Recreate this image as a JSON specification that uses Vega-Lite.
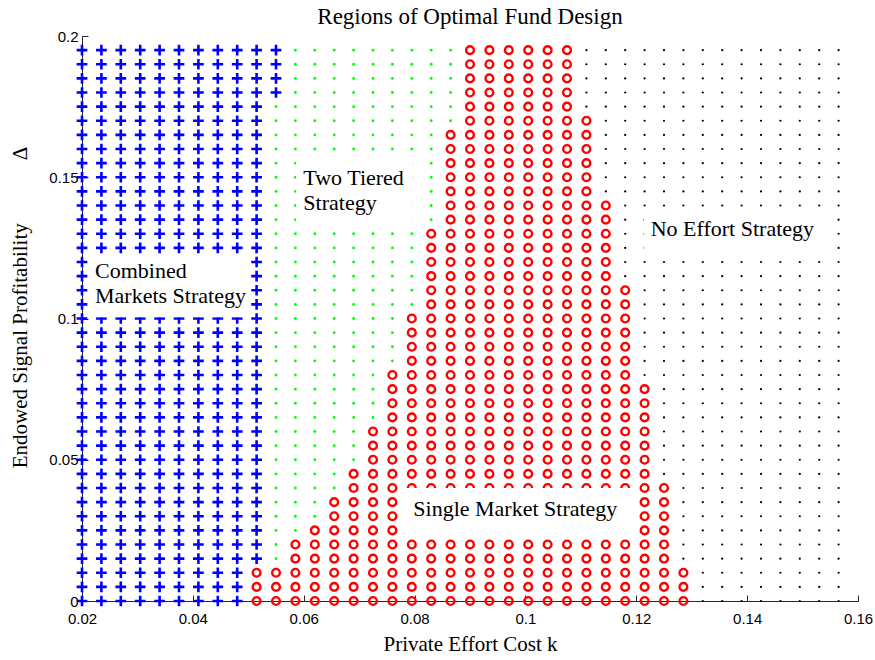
{
"$schema": "https://vega.github.io/schema/vega-lite/v6.json",
"width": 776, "height": 565,
"autosize": {"type": "none"},
"padding": {"left": 82, "top": 36, "right": 17, "bottom": 59},
"background": "white",
"title": {"text": "Regions of Optimal Fund Design", "font": "Liberation Serif", "fontSize": 23, "fontWeight": "normal", "color": "black", "offset": 0},
"config": {"view": {"stroke": null}},
"datasets": {
"grid": [
{"k":0.02,"d":0,"s":"C"},{"k":0.02,"d":0.005,"s":"C"},{"k":0.02,"d":0.01,"s":"C"},{"k":0.02,"d":0.015,"s":"C"},{"k":0.02,"d":0.02,"s":"C"},{"k":0.02,"d":0.025,"s":"C"},{"k":0.02,"d":0.03,"s":"C"},{"k":0.02,"d":0.035,"s":"C"},{"k":0.02,"d":0.04,"s":"C"},{"k":0.02,"d":0.045,"s":"C"},{"k":0.02,"d":0.05,"s":"C"},{"k":0.02,"d":0.055,"s":"C"},{"k":0.02,"d":0.06,"s":"C"},{"k":0.02,"d":0.065,"s":"C"},{"k":0.02,"d":0.07,"s":"C"},{"k":0.02,"d":0.075,"s":"C"},{"k":0.02,"d":0.08,"s":"C"},{"k":0.02,"d":0.085,"s":"C"},{"k":0.02,"d":0.09,"s":"C"},{"k":0.02,"d":0.095,"s":"C"},{"k":0.02,"d":0.1,"s":"C"},{"k":0.02,"d":0.105,"s":"C"},{"k":0.02,"d":0.11,"s":"C"},{"k":0.02,"d":0.115,"s":"C"},{"k":0.02,"d":0.12,"s":"C"},{"k":0.02,"d":0.125,"s":"C"},{"k":0.02,"d":0.13,"s":"C"},{"k":0.02,"d":0.135,"s":"C"},{"k":0.02,"d":0.14,"s":"C"},{"k":0.02,"d":0.145,"s":"C"},{"k":0.02,"d":0.15,"s":"C"},{"k":0.02,"d":0.155,"s":"C"},{"k":0.02,"d":0.16,"s":"C"},{"k":0.02,"d":0.165,"s":"C"},{"k":0.02,"d":0.17,"s":"C"},{"k":0.02,"d":0.175,"s":"C"},{"k":0.02,"d":0.18,"s":"C"},{"k":0.02,"d":0.185,"s":"C"},{"k":0.02,"d":0.19,"s":"C"},{"k":0.02,"d":0.195,"s":"C"},
{"k":0.0235,"d":0,"s":"C"},{"k":0.0235,"d":0.005,"s":"C"},{"k":0.0235,"d":0.01,"s":"C"},{"k":0.0235,"d":0.015,"s":"C"},{"k":0.0235,"d":0.02,"s":"C"},{"k":0.0235,"d":0.025,"s":"C"},{"k":0.0235,"d":0.03,"s":"C"},{"k":0.0235,"d":0.035,"s":"C"},{"k":0.0235,"d":0.04,"s":"C"},{"k":0.0235,"d":0.045,"s":"C"},{"k":0.0235,"d":0.05,"s":"C"},{"k":0.0235,"d":0.055,"s":"C"},{"k":0.0235,"d":0.06,"s":"C"},{"k":0.0235,"d":0.065,"s":"C"},{"k":0.0235,"d":0.07,"s":"C"},{"k":0.0235,"d":0.075,"s":"C"},{"k":0.0235,"d":0.08,"s":"C"},{"k":0.0235,"d":0.085,"s":"C"},{"k":0.0235,"d":0.09,"s":"C"},{"k":0.0235,"d":0.095,"s":"C"},{"k":0.0235,"d":0.1,"s":"C"},{"k":0.0235,"d":0.105,"s":"C"},{"k":0.0235,"d":0.11,"s":"C"},{"k":0.0235,"d":0.115,"s":"C"},{"k":0.0235,"d":0.12,"s":"C"},{"k":0.0235,"d":0.125,"s":"C"},{"k":0.0235,"d":0.13,"s":"C"},{"k":0.0235,"d":0.135,"s":"C"},{"k":0.0235,"d":0.14,"s":"C"},{"k":0.0235,"d":0.145,"s":"C"},{"k":0.0235,"d":0.15,"s":"C"},{"k":0.0235,"d":0.155,"s":"C"},{"k":0.0235,"d":0.16,"s":"C"},{"k":0.0235,"d":0.165,"s":"C"},{"k":0.0235,"d":0.17,"s":"C"},{"k":0.0235,"d":0.175,"s":"C"},{"k":0.0235,"d":0.18,"s":"C"},{"k":0.0235,"d":0.185,"s":"C"},{"k":0.0235,"d":0.19,"s":"C"},{"k":0.0235,"d":0.195,"s":"C"},
{"k":0.027,"d":0,"s":"C"},{"k":0.027,"d":0.005,"s":"C"},{"k":0.027,"d":0.01,"s":"C"},{"k":0.027,"d":0.015,"s":"C"},{"k":0.027,"d":0.02,"s":"C"},{"k":0.027,"d":0.025,"s":"C"},{"k":0.027,"d":0.03,"s":"C"},{"k":0.027,"d":0.035,"s":"C"},{"k":0.027,"d":0.04,"s":"C"},{"k":0.027,"d":0.045,"s":"C"},{"k":0.027,"d":0.05,"s":"C"},{"k":0.027,"d":0.055,"s":"C"},{"k":0.027,"d":0.06,"s":"C"},{"k":0.027,"d":0.065,"s":"C"},{"k":0.027,"d":0.07,"s":"C"},{"k":0.027,"d":0.075,"s":"C"},{"k":0.027,"d":0.08,"s":"C"},{"k":0.027,"d":0.085,"s":"C"},{"k":0.027,"d":0.09,"s":"C"},{"k":0.027,"d":0.095,"s":"C"},{"k":0.027,"d":0.1,"s":"C"},{"k":0.027,"d":0.105,"s":"C"},{"k":0.027,"d":0.11,"s":"C"},{"k":0.027,"d":0.115,"s":"C"},{"k":0.027,"d":0.12,"s":"C"},{"k":0.027,"d":0.125,"s":"C"},{"k":0.027,"d":0.13,"s":"C"},{"k":0.027,"d":0.135,"s":"C"},{"k":0.027,"d":0.14,"s":"C"},{"k":0.027,"d":0.145,"s":"C"},{"k":0.027,"d":0.15,"s":"C"},{"k":0.027,"d":0.155,"s":"C"},{"k":0.027,"d":0.16,"s":"C"},{"k":0.027,"d":0.165,"s":"C"},{"k":0.027,"d":0.17,"s":"C"},{"k":0.027,"d":0.175,"s":"C"},{"k":0.027,"d":0.18,"s":"C"},{"k":0.027,"d":0.185,"s":"C"},{"k":0.027,"d":0.19,"s":"C"},{"k":0.027,"d":0.195,"s":"C"},
{"k":0.0305,"d":0,"s":"C"},{"k":0.0305,"d":0.005,"s":"C"},{"k":0.0305,"d":0.01,"s":"C"},{"k":0.0305,"d":0.015,"s":"C"},{"k":0.0305,"d":0.02,"s":"C"},{"k":0.0305,"d":0.025,"s":"C"},{"k":0.0305,"d":0.03,"s":"C"},{"k":0.0305,"d":0.035,"s":"C"},{"k":0.0305,"d":0.04,"s":"C"},{"k":0.0305,"d":0.045,"s":"C"},{"k":0.0305,"d":0.05,"s":"C"},{"k":0.0305,"d":0.055,"s":"C"},{"k":0.0305,"d":0.06,"s":"C"},{"k":0.0305,"d":0.065,"s":"C"},{"k":0.0305,"d":0.07,"s":"C"},{"k":0.0305,"d":0.075,"s":"C"},{"k":0.0305,"d":0.08,"s":"C"},{"k":0.0305,"d":0.085,"s":"C"},{"k":0.0305,"d":0.09,"s":"C"},{"k":0.0305,"d":0.095,"s":"C"},{"k":0.0305,"d":0.1,"s":"C"},{"k":0.0305,"d":0.105,"s":"C"},{"k":0.0305,"d":0.11,"s":"C"},{"k":0.0305,"d":0.115,"s":"C"},{"k":0.0305,"d":0.12,"s":"C"},{"k":0.0305,"d":0.125,"s":"C"},{"k":0.0305,"d":0.13,"s":"C"},{"k":0.0305,"d":0.135,"s":"C"},{"k":0.0305,"d":0.14,"s":"C"},{"k":0.0305,"d":0.145,"s":"C"},{"k":0.0305,"d":0.15,"s":"C"},{"k":0.0305,"d":0.155,"s":"C"},{"k":0.0305,"d":0.16,"s":"C"},{"k":0.0305,"d":0.165,"s":"C"},{"k":0.0305,"d":0.17,"s":"C"},{"k":0.0305,"d":0.175,"s":"C"},{"k":0.0305,"d":0.18,"s":"C"},{"k":0.0305,"d":0.185,"s":"C"},{"k":0.0305,"d":0.19,"s":"C"},{"k":0.0305,"d":0.195,"s":"C"},
{"k":0.034,"d":0,"s":"C"},{"k":0.034,"d":0.005,"s":"C"},{"k":0.034,"d":0.01,"s":"C"},{"k":0.034,"d":0.015,"s":"C"},{"k":0.034,"d":0.02,"s":"C"},{"k":0.034,"d":0.025,"s":"C"},{"k":0.034,"d":0.03,"s":"C"},{"k":0.034,"d":0.035,"s":"C"},{"k":0.034,"d":0.04,"s":"C"},{"k":0.034,"d":0.045,"s":"C"},{"k":0.034,"d":0.05,"s":"C"},{"k":0.034,"d":0.055,"s":"C"},{"k":0.034,"d":0.06,"s":"C"},{"k":0.034,"d":0.065,"s":"C"},{"k":0.034,"d":0.07,"s":"C"},{"k":0.034,"d":0.075,"s":"C"},{"k":0.034,"d":0.08,"s":"C"},{"k":0.034,"d":0.085,"s":"C"},{"k":0.034,"d":0.09,"s":"C"},{"k":0.034,"d":0.095,"s":"C"},{"k":0.034,"d":0.1,"s":"C"},{"k":0.034,"d":0.105,"s":"C"},{"k":0.034,"d":0.11,"s":"C"},{"k":0.034,"d":0.115,"s":"C"},{"k":0.034,"d":0.12,"s":"C"},{"k":0.034,"d":0.125,"s":"C"},{"k":0.034,"d":0.13,"s":"C"},{"k":0.034,"d":0.135,"s":"C"},{"k":0.034,"d":0.14,"s":"C"},{"k":0.034,"d":0.145,"s":"C"},{"k":0.034,"d":0.15,"s":"C"},{"k":0.034,"d":0.155,"s":"C"},{"k":0.034,"d":0.16,"s":"C"},{"k":0.034,"d":0.165,"s":"C"},{"k":0.034,"d":0.17,"s":"C"},{"k":0.034,"d":0.175,"s":"C"},{"k":0.034,"d":0.18,"s":"C"},{"k":0.034,"d":0.185,"s":"C"},{"k":0.034,"d":0.19,"s":"C"},{"k":0.034,"d":0.195,"s":"C"},
{"k":0.0375,"d":0,"s":"C"},{"k":0.0375,"d":0.005,"s":"C"},{"k":0.0375,"d":0.01,"s":"C"},{"k":0.0375,"d":0.015,"s":"C"},{"k":0.0375,"d":0.02,"s":"C"},{"k":0.0375,"d":0.025,"s":"C"},{"k":0.0375,"d":0.03,"s":"C"},{"k":0.0375,"d":0.035,"s":"C"},{"k":0.0375,"d":0.04,"s":"C"},{"k":0.0375,"d":0.045,"s":"C"},{"k":0.0375,"d":0.05,"s":"C"},{"k":0.0375,"d":0.055,"s":"C"},{"k":0.0375,"d":0.06,"s":"C"},{"k":0.0375,"d":0.065,"s":"C"},{"k":0.0375,"d":0.07,"s":"C"},{"k":0.0375,"d":0.075,"s":"C"},{"k":0.0375,"d":0.08,"s":"C"},{"k":0.0375,"d":0.085,"s":"C"},{"k":0.0375,"d":0.09,"s":"C"},{"k":0.0375,"d":0.095,"s":"C"},{"k":0.0375,"d":0.1,"s":"C"},{"k":0.0375,"d":0.105,"s":"C"},{"k":0.0375,"d":0.11,"s":"C"},{"k":0.0375,"d":0.115,"s":"C"},{"k":0.0375,"d":0.12,"s":"C"},{"k":0.0375,"d":0.125,"s":"C"},{"k":0.0375,"d":0.13,"s":"C"},{"k":0.0375,"d":0.135,"s":"C"},{"k":0.0375,"d":0.14,"s":"C"},{"k":0.0375,"d":0.145,"s":"C"},{"k":0.0375,"d":0.15,"s":"C"},{"k":0.0375,"d":0.155,"s":"C"},{"k":0.0375,"d":0.16,"s":"C"},{"k":0.0375,"d":0.165,"s":"C"},{"k":0.0375,"d":0.17,"s":"C"},{"k":0.0375,"d":0.175,"s":"C"},{"k":0.0375,"d":0.18,"s":"C"},{"k":0.0375,"d":0.185,"s":"C"},{"k":0.0375,"d":0.19,"s":"C"},{"k":0.0375,"d":0.195,"s":"C"},
{"k":0.041,"d":0,"s":"C"},{"k":0.041,"d":0.005,"s":"C"},{"k":0.041,"d":0.01,"s":"C"},{"k":0.041,"d":0.015,"s":"C"},{"k":0.041,"d":0.02,"s":"C"},{"k":0.041,"d":0.025,"s":"C"},{"k":0.041,"d":0.03,"s":"C"},{"k":0.041,"d":0.035,"s":"C"},{"k":0.041,"d":0.04,"s":"C"},{"k":0.041,"d":0.045,"s":"C"},{"k":0.041,"d":0.05,"s":"C"},{"k":0.041,"d":0.055,"s":"C"},{"k":0.041,"d":0.06,"s":"C"},{"k":0.041,"d":0.065,"s":"C"},{"k":0.041,"d":0.07,"s":"C"},{"k":0.041,"d":0.075,"s":"C"},{"k":0.041,"d":0.08,"s":"C"},{"k":0.041,"d":0.085,"s":"C"},{"k":0.041,"d":0.09,"s":"C"},{"k":0.041,"d":0.095,"s":"C"},{"k":0.041,"d":0.1,"s":"C"},{"k":0.041,"d":0.105,"s":"C"},{"k":0.041,"d":0.11,"s":"C"},{"k":0.041,"d":0.115,"s":"C"},{"k":0.041,"d":0.12,"s":"C"},{"k":0.041,"d":0.125,"s":"C"},{"k":0.041,"d":0.13,"s":"C"},{"k":0.041,"d":0.135,"s":"C"},{"k":0.041,"d":0.14,"s":"C"},{"k":0.041,"d":0.145,"s":"C"},{"k":0.041,"d":0.15,"s":"C"},{"k":0.041,"d":0.155,"s":"C"},{"k":0.041,"d":0.16,"s":"C"},{"k":0.041,"d":0.165,"s":"C"},{"k":0.041,"d":0.17,"s":"C"},{"k":0.041,"d":0.175,"s":"C"},{"k":0.041,"d":0.18,"s":"C"},{"k":0.041,"d":0.185,"s":"C"},{"k":0.041,"d":0.19,"s":"C"},{"k":0.041,"d":0.195,"s":"C"},
{"k":0.0445,"d":0,"s":"C"},{"k":0.0445,"d":0.005,"s":"C"},{"k":0.0445,"d":0.01,"s":"C"},{"k":0.0445,"d":0.015,"s":"C"},{"k":0.0445,"d":0.02,"s":"C"},{"k":0.0445,"d":0.025,"s":"C"},{"k":0.0445,"d":0.03,"s":"C"},{"k":0.0445,"d":0.035,"s":"C"},{"k":0.0445,"d":0.04,"s":"C"},{"k":0.0445,"d":0.045,"s":"C"},{"k":0.0445,"d":0.05,"s":"C"},{"k":0.0445,"d":0.055,"s":"C"},{"k":0.0445,"d":0.06,"s":"C"},{"k":0.0445,"d":0.065,"s":"C"},{"k":0.0445,"d":0.07,"s":"C"},{"k":0.0445,"d":0.075,"s":"C"},{"k":0.0445,"d":0.08,"s":"C"},{"k":0.0445,"d":0.085,"s":"C"},{"k":0.0445,"d":0.09,"s":"C"},{"k":0.0445,"d":0.095,"s":"C"},{"k":0.0445,"d":0.1,"s":"C"},{"k":0.0445,"d":0.105,"s":"C"},{"k":0.0445,"d":0.11,"s":"C"},{"k":0.0445,"d":0.115,"s":"C"},{"k":0.0445,"d":0.12,"s":"C"},{"k":0.0445,"d":0.125,"s":"C"},{"k":0.0445,"d":0.13,"s":"C"},{"k":0.0445,"d":0.135,"s":"C"},{"k":0.0445,"d":0.14,"s":"C"},{"k":0.0445,"d":0.145,"s":"C"},{"k":0.0445,"d":0.15,"s":"C"},{"k":0.0445,"d":0.155,"s":"C"},{"k":0.0445,"d":0.16,"s":"C"},{"k":0.0445,"d":0.165,"s":"C"},{"k":0.0445,"d":0.17,"s":"C"},{"k":0.0445,"d":0.175,"s":"C"},{"k":0.0445,"d":0.18,"s":"C"},{"k":0.0445,"d":0.185,"s":"C"},{"k":0.0445,"d":0.19,"s":"C"},{"k":0.0445,"d":0.195,"s":"C"},
{"k":0.048,"d":0,"s":"C"},{"k":0.048,"d":0.005,"s":"C"},{"k":0.048,"d":0.01,"s":"C"},{"k":0.048,"d":0.015,"s":"C"},{"k":0.048,"d":0.02,"s":"C"},{"k":0.048,"d":0.025,"s":"C"},{"k":0.048,"d":0.03,"s":"C"},{"k":0.048,"d":0.035,"s":"C"},{"k":0.048,"d":0.04,"s":"C"},{"k":0.048,"d":0.045,"s":"C"},{"k":0.048,"d":0.05,"s":"C"},{"k":0.048,"d":0.055,"s":"C"},{"k":0.048,"d":0.06,"s":"C"},{"k":0.048,"d":0.065,"s":"C"},{"k":0.048,"d":0.07,"s":"C"},{"k":0.048,"d":0.075,"s":"C"},{"k":0.048,"d":0.08,"s":"C"},{"k":0.048,"d":0.085,"s":"C"},{"k":0.048,"d":0.09,"s":"C"},{"k":0.048,"d":0.095,"s":"C"},{"k":0.048,"d":0.1,"s":"C"},{"k":0.048,"d":0.105,"s":"C"},{"k":0.048,"d":0.11,"s":"C"},{"k":0.048,"d":0.115,"s":"C"},{"k":0.048,"d":0.12,"s":"C"},{"k":0.048,"d":0.125,"s":"C"},{"k":0.048,"d":0.13,"s":"C"},{"k":0.048,"d":0.135,"s":"C"},{"k":0.048,"d":0.14,"s":"C"},{"k":0.048,"d":0.145,"s":"C"},{"k":0.048,"d":0.15,"s":"C"},{"k":0.048,"d":0.155,"s":"C"},{"k":0.048,"d":0.16,"s":"C"},{"k":0.048,"d":0.165,"s":"C"},{"k":0.048,"d":0.17,"s":"C"},{"k":0.048,"d":0.175,"s":"C"},{"k":0.048,"d":0.18,"s":"C"},{"k":0.048,"d":0.185,"s":"C"},{"k":0.048,"d":0.19,"s":"C"},{"k":0.048,"d":0.195,"s":"C"},
{"k":0.0515,"d":0,"s":"S"},{"k":0.0515,"d":0.005,"s":"S"},{"k":0.0515,"d":0.01,"s":"S"},{"k":0.0515,"d":0.015,"s":"C"},{"k":0.0515,"d":0.02,"s":"C"},{"k":0.0515,"d":0.025,"s":"C"},{"k":0.0515,"d":0.03,"s":"C"},{"k":0.0515,"d":0.035,"s":"C"},{"k":0.0515,"d":0.04,"s":"C"},{"k":0.0515,"d":0.045,"s":"C"},{"k":0.0515,"d":0.05,"s":"C"},{"k":0.0515,"d":0.055,"s":"C"},{"k":0.0515,"d":0.06,"s":"C"},{"k":0.0515,"d":0.065,"s":"C"},{"k":0.0515,"d":0.07,"s":"C"},{"k":0.0515,"d":0.075,"s":"C"},{"k":0.0515,"d":0.08,"s":"C"},{"k":0.0515,"d":0.085,"s":"C"},{"k":0.0515,"d":0.09,"s":"C"},{"k":0.0515,"d":0.095,"s":"C"},{"k":0.0515,"d":0.1,"s":"C"},{"k":0.0515,"d":0.105,"s":"C"},{"k":0.0515,"d":0.11,"s":"C"},{"k":0.0515,"d":0.115,"s":"C"},{"k":0.0515,"d":0.12,"s":"C"},{"k":0.0515,"d":0.125,"s":"C"},{"k":0.0515,"d":0.13,"s":"C"},{"k":0.0515,"d":0.135,"s":"C"},{"k":0.0515,"d":0.14,"s":"C"},{"k":0.0515,"d":0.145,"s":"C"},{"k":0.0515,"d":0.15,"s":"C"},{"k":0.0515,"d":0.155,"s":"C"},{"k":0.0515,"d":0.16,"s":"C"},{"k":0.0515,"d":0.165,"s":"C"},{"k":0.0515,"d":0.17,"s":"C"},{"k":0.0515,"d":0.175,"s":"C"},{"k":0.0515,"d":0.18,"s":"C"},{"k":0.0515,"d":0.185,"s":"C"},{"k":0.0515,"d":0.19,"s":"C"},{"k":0.0515,"d":0.195,"s":"C"},
{"k":0.055,"d":0,"s":"S"},{"k":0.055,"d":0.005,"s":"S"},{"k":0.055,"d":0.01,"s":"S"},{"k":0.055,"d":0.015,"s":"T"},{"k":0.055,"d":0.02,"s":"T"},{"k":0.055,"d":0.025,"s":"T"},{"k":0.055,"d":0.03,"s":"T"},{"k":0.055,"d":0.035,"s":"T"},{"k":0.055,"d":0.04,"s":"T"},{"k":0.055,"d":0.045,"s":"T"},{"k":0.055,"d":0.05,"s":"T"},{"k":0.055,"d":0.055,"s":"T"},{"k":0.055,"d":0.06,"s":"T"},{"k":0.055,"d":0.065,"s":"T"},{"k":0.055,"d":0.07,"s":"T"},{"k":0.055,"d":0.075,"s":"T"},{"k":0.055,"d":0.08,"s":"T"},{"k":0.055,"d":0.085,"s":"T"},{"k":0.055,"d":0.09,"s":"T"},{"k":0.055,"d":0.095,"s":"T"},{"k":0.055,"d":0.1,"s":"T"},{"k":0.055,"d":0.105,"s":"T"},{"k":0.055,"d":0.11,"s":"T"},{"k":0.055,"d":0.115,"s":"T"},{"k":0.055,"d":0.12,"s":"T"},{"k":0.055,"d":0.125,"s":"T"},{"k":0.055,"d":0.13,"s":"T"},{"k":0.055,"d":0.135,"s":"T"},{"k":0.055,"d":0.14,"s":"T"},{"k":0.055,"d":0.145,"s":"T"},{"k":0.055,"d":0.15,"s":"T"},{"k":0.055,"d":0.155,"s":"T"},{"k":0.055,"d":0.16,"s":"T"},{"k":0.055,"d":0.165,"s":"T"},{"k":0.055,"d":0.17,"s":"T"},{"k":0.055,"d":0.175,"s":"T"},{"k":0.055,"d":0.18,"s":"C"},{"k":0.055,"d":0.185,"s":"C"},{"k":0.055,"d":0.19,"s":"C"},{"k":0.055,"d":0.195,"s":"C"},
{"k":0.0585,"d":0,"s":"S"},{"k":0.0585,"d":0.005,"s":"S"},{"k":0.0585,"d":0.01,"s":"S"},{"k":0.0585,"d":0.015,"s":"S"},{"k":0.0585,"d":0.02,"s":"S"},{"k":0.0585,"d":0.025,"s":"T"},{"k":0.0585,"d":0.03,"s":"T"},{"k":0.0585,"d":0.035,"s":"T"},{"k":0.0585,"d":0.04,"s":"T"},{"k":0.0585,"d":0.045,"s":"T"},{"k":0.0585,"d":0.05,"s":"T"},{"k":0.0585,"d":0.055,"s":"T"},{"k":0.0585,"d":0.06,"s":"T"},{"k":0.0585,"d":0.065,"s":"T"},{"k":0.0585,"d":0.07,"s":"T"},{"k":0.0585,"d":0.075,"s":"T"},{"k":0.0585,"d":0.08,"s":"T"},{"k":0.0585,"d":0.085,"s":"T"},{"k":0.0585,"d":0.09,"s":"T"},{"k":0.0585,"d":0.095,"s":"T"},{"k":0.0585,"d":0.1,"s":"T"},{"k":0.0585,"d":0.105,"s":"T"},{"k":0.0585,"d":0.11,"s":"T"},{"k":0.0585,"d":0.115,"s":"T"},{"k":0.0585,"d":0.12,"s":"T"},{"k":0.0585,"d":0.125,"s":"T"},{"k":0.0585,"d":0.13,"s":"T"},{"k":0.0585,"d":0.135,"s":"T"},{"k":0.0585,"d":0.14,"s":"T"},{"k":0.0585,"d":0.145,"s":"T"},{"k":0.0585,"d":0.15,"s":"T"},{"k":0.0585,"d":0.155,"s":"T"},{"k":0.0585,"d":0.16,"s":"T"},{"k":0.0585,"d":0.165,"s":"T"},{"k":0.0585,"d":0.17,"s":"T"},{"k":0.0585,"d":0.175,"s":"T"},{"k":0.0585,"d":0.18,"s":"T"},{"k":0.0585,"d":0.185,"s":"T"},{"k":0.0585,"d":0.19,"s":"T"},{"k":0.0585,"d":0.195,"s":"T"},
{"k":0.062,"d":0,"s":"S"},{"k":0.062,"d":0.005,"s":"S"},{"k":0.062,"d":0.01,"s":"S"},{"k":0.062,"d":0.015,"s":"S"},{"k":0.062,"d":0.02,"s":"S"},{"k":0.062,"d":0.025,"s":"S"},{"k":0.062,"d":0.03,"s":"T"},{"k":0.062,"d":0.035,"s":"T"},{"k":0.062,"d":0.04,"s":"T"},{"k":0.062,"d":0.045,"s":"T"},{"k":0.062,"d":0.05,"s":"T"},{"k":0.062,"d":0.055,"s":"T"},{"k":0.062,"d":0.06,"s":"T"},{"k":0.062,"d":0.065,"s":"T"},{"k":0.062,"d":0.07,"s":"T"},{"k":0.062,"d":0.075,"s":"T"},{"k":0.062,"d":0.08,"s":"T"},{"k":0.062,"d":0.085,"s":"T"},{"k":0.062,"d":0.09,"s":"T"},{"k":0.062,"d":0.095,"s":"T"},{"k":0.062,"d":0.1,"s":"T"},{"k":0.062,"d":0.105,"s":"T"},{"k":0.062,"d":0.11,"s":"T"},{"k":0.062,"d":0.115,"s":"T"},{"k":0.062,"d":0.12,"s":"T"},{"k":0.062,"d":0.125,"s":"T"},{"k":0.062,"d":0.13,"s":"T"},{"k":0.062,"d":0.135,"s":"T"},{"k":0.062,"d":0.14,"s":"T"},{"k":0.062,"d":0.145,"s":"T"},{"k":0.062,"d":0.15,"s":"T"},{"k":0.062,"d":0.155,"s":"T"},{"k":0.062,"d":0.16,"s":"T"},{"k":0.062,"d":0.165,"s":"T"},{"k":0.062,"d":0.17,"s":"T"},{"k":0.062,"d":0.175,"s":"T"},{"k":0.062,"d":0.18,"s":"T"},{"k":0.062,"d":0.185,"s":"T"},{"k":0.062,"d":0.19,"s":"T"},{"k":0.062,"d":0.195,"s":"T"},
{"k":0.0655,"d":0,"s":"S"},{"k":0.0655,"d":0.005,"s":"S"},{"k":0.0655,"d":0.01,"s":"S"},{"k":0.0655,"d":0.015,"s":"S"},{"k":0.0655,"d":0.02,"s":"S"},{"k":0.0655,"d":0.025,"s":"S"},{"k":0.0655,"d":0.03,"s":"S"},{"k":0.0655,"d":0.035,"s":"S"},{"k":0.0655,"d":0.04,"s":"T"},{"k":0.0655,"d":0.045,"s":"T"},{"k":0.0655,"d":0.05,"s":"T"},{"k":0.0655,"d":0.055,"s":"T"},{"k":0.0655,"d":0.06,"s":"T"},{"k":0.0655,"d":0.065,"s":"T"},{"k":0.0655,"d":0.07,"s":"T"},{"k":0.0655,"d":0.075,"s":"T"},{"k":0.0655,"d":0.08,"s":"T"},{"k":0.0655,"d":0.085,"s":"T"},{"k":0.0655,"d":0.09,"s":"T"},{"k":0.0655,"d":0.095,"s":"T"},{"k":0.0655,"d":0.1,"s":"T"},{"k":0.0655,"d":0.105,"s":"T"},{"k":0.0655,"d":0.11,"s":"T"},{"k":0.0655,"d":0.115,"s":"T"},{"k":0.0655,"d":0.12,"s":"T"},{"k":0.0655,"d":0.125,"s":"T"},{"k":0.0655,"d":0.13,"s":"T"},{"k":0.0655,"d":0.135,"s":"T"},{"k":0.0655,"d":0.14,"s":"T"},{"k":0.0655,"d":0.145,"s":"T"},{"k":0.0655,"d":0.15,"s":"T"},{"k":0.0655,"d":0.155,"s":"T"},{"k":0.0655,"d":0.16,"s":"T"},{"k":0.0655,"d":0.165,"s":"T"},{"k":0.0655,"d":0.17,"s":"T"},{"k":0.0655,"d":0.175,"s":"T"},{"k":0.0655,"d":0.18,"s":"T"},{"k":0.0655,"d":0.185,"s":"T"},{"k":0.0655,"d":0.19,"s":"T"},{"k":0.0655,"d":0.195,"s":"T"},
{"k":0.069,"d":0,"s":"S"},{"k":0.069,"d":0.005,"s":"S"},{"k":0.069,"d":0.01,"s":"S"},{"k":0.069,"d":0.015,"s":"S"},{"k":0.069,"d":0.02,"s":"S"},{"k":0.069,"d":0.025,"s":"S"},{"k":0.069,"d":0.03,"s":"S"},{"k":0.069,"d":0.035,"s":"S"},{"k":0.069,"d":0.04,"s":"S"},{"k":0.069,"d":0.045,"s":"S"},{"k":0.069,"d":0.05,"s":"T"},{"k":0.069,"d":0.055,"s":"T"},{"k":0.069,"d":0.06,"s":"T"},{"k":0.069,"d":0.065,"s":"T"},{"k":0.069,"d":0.07,"s":"T"},{"k":0.069,"d":0.075,"s":"T"},{"k":0.069,"d":0.08,"s":"T"},{"k":0.069,"d":0.085,"s":"T"},{"k":0.069,"d":0.09,"s":"T"},{"k":0.069,"d":0.095,"s":"T"},{"k":0.069,"d":0.1,"s":"T"},{"k":0.069,"d":0.105,"s":"T"},{"k":0.069,"d":0.11,"s":"T"},{"k":0.069,"d":0.115,"s":"T"},{"k":0.069,"d":0.12,"s":"T"},{"k":0.069,"d":0.125,"s":"T"},{"k":0.069,"d":0.13,"s":"T"},{"k":0.069,"d":0.135,"s":"T"},{"k":0.069,"d":0.14,"s":"T"},{"k":0.069,"d":0.145,"s":"T"},{"k":0.069,"d":0.15,"s":"T"},{"k":0.069,"d":0.155,"s":"T"},{"k":0.069,"d":0.16,"s":"T"},{"k":0.069,"d":0.165,"s":"T"},{"k":0.069,"d":0.17,"s":"T"},{"k":0.069,"d":0.175,"s":"T"},{"k":0.069,"d":0.18,"s":"T"},{"k":0.069,"d":0.185,"s":"T"},{"k":0.069,"d":0.19,"s":"T"},{"k":0.069,"d":0.195,"s":"T"},
{"k":0.0725,"d":0,"s":"S"},{"k":0.0725,"d":0.005,"s":"S"},{"k":0.0725,"d":0.01,"s":"S"},{"k":0.0725,"d":0.015,"s":"S"},{"k":0.0725,"d":0.02,"s":"S"},{"k":0.0725,"d":0.025,"s":"S"},{"k":0.0725,"d":0.03,"s":"S"},{"k":0.0725,"d":0.035,"s":"S"},{"k":0.0725,"d":0.04,"s":"S"},{"k":0.0725,"d":0.045,"s":"S"},{"k":0.0725,"d":0.05,"s":"S"},{"k":0.0725,"d":0.055,"s":"S"},{"k":0.0725,"d":0.06,"s":"S"},{"k":0.0725,"d":0.065,"s":"T"},{"k":0.0725,"d":0.07,"s":"T"},{"k":0.0725,"d":0.075,"s":"T"},{"k":0.0725,"d":0.08,"s":"T"},{"k":0.0725,"d":0.085,"s":"T"},{"k":0.0725,"d":0.09,"s":"T"},{"k":0.0725,"d":0.095,"s":"T"},{"k":0.0725,"d":0.1,"s":"T"},{"k":0.0725,"d":0.105,"s":"T"},{"k":0.0725,"d":0.11,"s":"T"},{"k":0.0725,"d":0.115,"s":"T"},{"k":0.0725,"d":0.12,"s":"T"},{"k":0.0725,"d":0.125,"s":"T"},{"k":0.0725,"d":0.13,"s":"T"},{"k":0.0725,"d":0.135,"s":"T"},{"k":0.0725,"d":0.14,"s":"T"},{"k":0.0725,"d":0.145,"s":"T"},{"k":0.0725,"d":0.15,"s":"T"},{"k":0.0725,"d":0.155,"s":"T"},{"k":0.0725,"d":0.16,"s":"T"},{"k":0.0725,"d":0.165,"s":"T"},{"k":0.0725,"d":0.17,"s":"T"},{"k":0.0725,"d":0.175,"s":"T"},{"k":0.0725,"d":0.18,"s":"T"},{"k":0.0725,"d":0.185,"s":"T"},{"k":0.0725,"d":0.19,"s":"T"},{"k":0.0725,"d":0.195,"s":"T"},
{"k":0.076,"d":0,"s":"S"},{"k":0.076,"d":0.005,"s":"S"},{"k":0.076,"d":0.01,"s":"S"},{"k":0.076,"d":0.015,"s":"S"},{"k":0.076,"d":0.02,"s":"S"},{"k":0.076,"d":0.025,"s":"S"},{"k":0.076,"d":0.03,"s":"S"},{"k":0.076,"d":0.035,"s":"S"},{"k":0.076,"d":0.04,"s":"S"},{"k":0.076,"d":0.045,"s":"S"},{"k":0.076,"d":0.05,"s":"S"},{"k":0.076,"d":0.055,"s":"S"},{"k":0.076,"d":0.06,"s":"S"},{"k":0.076,"d":0.065,"s":"S"},{"k":0.076,"d":0.07,"s":"S"},{"k":0.076,"d":0.075,"s":"S"},{"k":0.076,"d":0.08,"s":"S"},{"k":0.076,"d":0.085,"s":"T"},{"k":0.076,"d":0.09,"s":"T"},{"k":0.076,"d":0.095,"s":"T"},{"k":0.076,"d":0.1,"s":"T"},{"k":0.076,"d":0.105,"s":"T"},{"k":0.076,"d":0.11,"s":"T"},{"k":0.076,"d":0.115,"s":"T"},{"k":0.076,"d":0.12,"s":"T"},{"k":0.076,"d":0.125,"s":"T"},{"k":0.076,"d":0.13,"s":"T"},{"k":0.076,"d":0.135,"s":"T"},{"k":0.076,"d":0.14,"s":"T"},{"k":0.076,"d":0.145,"s":"T"},{"k":0.076,"d":0.15,"s":"T"},{"k":0.076,"d":0.155,"s":"T"},{"k":0.076,"d":0.16,"s":"T"},{"k":0.076,"d":0.165,"s":"T"},{"k":0.076,"d":0.17,"s":"T"},{"k":0.076,"d":0.175,"s":"T"},{"k":0.076,"d":0.18,"s":"T"},{"k":0.076,"d":0.185,"s":"T"},{"k":0.076,"d":0.19,"s":"T"},{"k":0.076,"d":0.195,"s":"T"},
{"k":0.0795,"d":0,"s":"S"},{"k":0.0795,"d":0.005,"s":"S"},{"k":0.0795,"d":0.01,"s":"S"},{"k":0.0795,"d":0.015,"s":"S"},{"k":0.0795,"d":0.02,"s":"S"},{"k":0.0795,"d":0.025,"s":"S"},{"k":0.0795,"d":0.03,"s":"S"},{"k":0.0795,"d":0.035,"s":"S"},{"k":0.0795,"d":0.04,"s":"S"},{"k":0.0795,"d":0.045,"s":"S"},{"k":0.0795,"d":0.05,"s":"S"},{"k":0.0795,"d":0.055,"s":"S"},{"k":0.0795,"d":0.06,"s":"S"},{"k":0.0795,"d":0.065,"s":"S"},{"k":0.0795,"d":0.07,"s":"S"},{"k":0.0795,"d":0.075,"s":"S"},{"k":0.0795,"d":0.08,"s":"S"},{"k":0.0795,"d":0.085,"s":"S"},{"k":0.0795,"d":0.09,"s":"S"},{"k":0.0795,"d":0.095,"s":"S"},{"k":0.0795,"d":0.1,"s":"S"},{"k":0.0795,"d":0.105,"s":"T"},{"k":0.0795,"d":0.11,"s":"T"},{"k":0.0795,"d":0.115,"s":"T"},{"k":0.0795,"d":0.12,"s":"T"},{"k":0.0795,"d":0.125,"s":"T"},{"k":0.0795,"d":0.13,"s":"T"},{"k":0.0795,"d":0.135,"s":"T"},{"k":0.0795,"d":0.14,"s":"T"},{"k":0.0795,"d":0.145,"s":"T"},{"k":0.0795,"d":0.15,"s":"T"},{"k":0.0795,"d":0.155,"s":"T"},{"k":0.0795,"d":0.16,"s":"T"},{"k":0.0795,"d":0.165,"s":"T"},{"k":0.0795,"d":0.17,"s":"T"},{"k":0.0795,"d":0.175,"s":"T"},{"k":0.0795,"d":0.18,"s":"T"},{"k":0.0795,"d":0.185,"s":"T"},{"k":0.0795,"d":0.19,"s":"T"},{"k":0.0795,"d":0.195,"s":"T"},
{"k":0.083,"d":0,"s":"S"},{"k":0.083,"d":0.005,"s":"S"},{"k":0.083,"d":0.01,"s":"S"},{"k":0.083,"d":0.015,"s":"S"},{"k":0.083,"d":0.02,"s":"S"},{"k":0.083,"d":0.025,"s":"S"},{"k":0.083,"d":0.03,"s":"S"},{"k":0.083,"d":0.035,"s":"S"},{"k":0.083,"d":0.04,"s":"S"},{"k":0.083,"d":0.045,"s":"S"},{"k":0.083,"d":0.05,"s":"S"},{"k":0.083,"d":0.055,"s":"S"},{"k":0.083,"d":0.06,"s":"S"},{"k":0.083,"d":0.065,"s":"S"},{"k":0.083,"d":0.07,"s":"S"},{"k":0.083,"d":0.075,"s":"S"},{"k":0.083,"d":0.08,"s":"S"},{"k":0.083,"d":0.085,"s":"S"},{"k":0.083,"d":0.09,"s":"S"},{"k":0.083,"d":0.095,"s":"S"},{"k":0.083,"d":0.1,"s":"S"},{"k":0.083,"d":0.105,"s":"S"},{"k":0.083,"d":0.11,"s":"S"},{"k":0.083,"d":0.115,"s":"S"},{"k":0.083,"d":0.12,"s":"S"},{"k":0.083,"d":0.125,"s":"S"},{"k":0.083,"d":0.13,"s":"S"},{"k":0.083,"d":0.135,"s":"T"},{"k":0.083,"d":0.14,"s":"T"},{"k":0.083,"d":0.145,"s":"T"},{"k":0.083,"d":0.15,"s":"T"},{"k":0.083,"d":0.155,"s":"T"},{"k":0.083,"d":0.16,"s":"T"},{"k":0.083,"d":0.165,"s":"T"},{"k":0.083,"d":0.17,"s":"T"},{"k":0.083,"d":0.175,"s":"T"},{"k":0.083,"d":0.18,"s":"T"},{"k":0.083,"d":0.185,"s":"T"},{"k":0.083,"d":0.19,"s":"T"},{"k":0.083,"d":0.195,"s":"T"},
{"k":0.0865,"d":0,"s":"S"},{"k":0.0865,"d":0.005,"s":"S"},{"k":0.0865,"d":0.01,"s":"S"},{"k":0.0865,"d":0.015,"s":"S"},{"k":0.0865,"d":0.02,"s":"S"},{"k":0.0865,"d":0.025,"s":"S"},{"k":0.0865,"d":0.03,"s":"S"},{"k":0.0865,"d":0.035,"s":"S"},{"k":0.0865,"d":0.04,"s":"S"},{"k":0.0865,"d":0.045,"s":"S"},{"k":0.0865,"d":0.05,"s":"S"},{"k":0.0865,"d":0.055,"s":"S"},{"k":0.0865,"d":0.06,"s":"S"},{"k":0.0865,"d":0.065,"s":"S"},{"k":0.0865,"d":0.07,"s":"S"},{"k":0.0865,"d":0.075,"s":"S"},{"k":0.0865,"d":0.08,"s":"S"},{"k":0.0865,"d":0.085,"s":"S"},{"k":0.0865,"d":0.09,"s":"S"},{"k":0.0865,"d":0.095,"s":"S"},{"k":0.0865,"d":0.1,"s":"S"},{"k":0.0865,"d":0.105,"s":"S"},{"k":0.0865,"d":0.11,"s":"S"},{"k":0.0865,"d":0.115,"s":"S"},{"k":0.0865,"d":0.12,"s":"S"},{"k":0.0865,"d":0.125,"s":"S"},{"k":0.0865,"d":0.13,"s":"S"},{"k":0.0865,"d":0.135,"s":"S"},{"k":0.0865,"d":0.14,"s":"S"},{"k":0.0865,"d":0.145,"s":"S"},{"k":0.0865,"d":0.15,"s":"S"},{"k":0.0865,"d":0.155,"s":"S"},{"k":0.0865,"d":0.16,"s":"S"},{"k":0.0865,"d":0.165,"s":"S"},{"k":0.0865,"d":0.17,"s":"T"},{"k":0.0865,"d":0.175,"s":"T"},{"k":0.0865,"d":0.18,"s":"T"},{"k":0.0865,"d":0.185,"s":"T"},{"k":0.0865,"d":0.19,"s":"T"},{"k":0.0865,"d":0.195,"s":"T"},
{"k":0.09,"d":0,"s":"S"},{"k":0.09,"d":0.005,"s":"S"},{"k":0.09,"d":0.01,"s":"S"},{"k":0.09,"d":0.015,"s":"S"},{"k":0.09,"d":0.02,"s":"S"},{"k":0.09,"d":0.025,"s":"S"},{"k":0.09,"d":0.03,"s":"S"},{"k":0.09,"d":0.035,"s":"S"},{"k":0.09,"d":0.04,"s":"S"},{"k":0.09,"d":0.045,"s":"S"},{"k":0.09,"d":0.05,"s":"S"},{"k":0.09,"d":0.055,"s":"S"},{"k":0.09,"d":0.06,"s":"S"},{"k":0.09,"d":0.065,"s":"S"},{"k":0.09,"d":0.07,"s":"S"},{"k":0.09,"d":0.075,"s":"S"},{"k":0.09,"d":0.08,"s":"S"},{"k":0.09,"d":0.085,"s":"S"},{"k":0.09,"d":0.09,"s":"S"},{"k":0.09,"d":0.095,"s":"S"},{"k":0.09,"d":0.1,"s":"S"},{"k":0.09,"d":0.105,"s":"S"},{"k":0.09,"d":0.11,"s":"S"},{"k":0.09,"d":0.115,"s":"S"},{"k":0.09,"d":0.12,"s":"S"},{"k":0.09,"d":0.125,"s":"S"},{"k":0.09,"d":0.13,"s":"S"},{"k":0.09,"d":0.135,"s":"S"},{"k":0.09,"d":0.14,"s":"S"},{"k":0.09,"d":0.145,"s":"S"},{"k":0.09,"d":0.15,"s":"S"},{"k":0.09,"d":0.155,"s":"S"},{"k":0.09,"d":0.16,"s":"S"},{"k":0.09,"d":0.165,"s":"S"},{"k":0.09,"d":0.17,"s":"S"},{"k":0.09,"d":0.175,"s":"S"},{"k":0.09,"d":0.18,"s":"S"},{"k":0.09,"d":0.185,"s":"S"},{"k":0.09,"d":0.19,"s":"S"},{"k":0.09,"d":0.195,"s":"S"},
{"k":0.0935,"d":0,"s":"S"},{"k":0.0935,"d":0.005,"s":"S"},{"k":0.0935,"d":0.01,"s":"S"},{"k":0.0935,"d":0.015,"s":"S"},{"k":0.0935,"d":0.02,"s":"S"},{"k":0.0935,"d":0.025,"s":"S"},{"k":0.0935,"d":0.03,"s":"S"},{"k":0.0935,"d":0.035,"s":"S"},{"k":0.0935,"d":0.04,"s":"S"},{"k":0.0935,"d":0.045,"s":"S"},{"k":0.0935,"d":0.05,"s":"S"},{"k":0.0935,"d":0.055,"s":"S"},{"k":0.0935,"d":0.06,"s":"S"},{"k":0.0935,"d":0.065,"s":"S"},{"k":0.0935,"d":0.07,"s":"S"},{"k":0.0935,"d":0.075,"s":"S"},{"k":0.0935,"d":0.08,"s":"S"},{"k":0.0935,"d":0.085,"s":"S"},{"k":0.0935,"d":0.09,"s":"S"},{"k":0.0935,"d":0.095,"s":"S"},{"k":0.0935,"d":0.1,"s":"S"},{"k":0.0935,"d":0.105,"s":"S"},{"k":0.0935,"d":0.11,"s":"S"},{"k":0.0935,"d":0.115,"s":"S"},{"k":0.0935,"d":0.12,"s":"S"},{"k":0.0935,"d":0.125,"s":"S"},{"k":0.0935,"d":0.13,"s":"S"},{"k":0.0935,"d":0.135,"s":"S"},{"k":0.0935,"d":0.14,"s":"S"},{"k":0.0935,"d":0.145,"s":"S"},{"k":0.0935,"d":0.15,"s":"S"},{"k":0.0935,"d":0.155,"s":"S"},{"k":0.0935,"d":0.16,"s":"S"},{"k":0.0935,"d":0.165,"s":"S"},{"k":0.0935,"d":0.17,"s":"S"},{"k":0.0935,"d":0.175,"s":"S"},{"k":0.0935,"d":0.18,"s":"S"},{"k":0.0935,"d":0.185,"s":"S"},{"k":0.0935,"d":0.19,"s":"S"},{"k":0.0935,"d":0.195,"s":"S"},
{"k":0.097,"d":0,"s":"S"},{"k":0.097,"d":0.005,"s":"S"},{"k":0.097,"d":0.01,"s":"S"},{"k":0.097,"d":0.015,"s":"S"},{"k":0.097,"d":0.02,"s":"S"},{"k":0.097,"d":0.025,"s":"S"},{"k":0.097,"d":0.03,"s":"S"},{"k":0.097,"d":0.035,"s":"S"},{"k":0.097,"d":0.04,"s":"S"},{"k":0.097,"d":0.045,"s":"S"},{"k":0.097,"d":0.05,"s":"S"},{"k":0.097,"d":0.055,"s":"S"},{"k":0.097,"d":0.06,"s":"S"},{"k":0.097,"d":0.065,"s":"S"},{"k":0.097,"d":0.07,"s":"S"},{"k":0.097,"d":0.075,"s":"S"},{"k":0.097,"d":0.08,"s":"S"},{"k":0.097,"d":0.085,"s":"S"},{"k":0.097,"d":0.09,"s":"S"},{"k":0.097,"d":0.095,"s":"S"},{"k":0.097,"d":0.1,"s":"S"},{"k":0.097,"d":0.105,"s":"S"},{"k":0.097,"d":0.11,"s":"S"},{"k":0.097,"d":0.115,"s":"S"},{"k":0.097,"d":0.12,"s":"S"},{"k":0.097,"d":0.125,"s":"S"},{"k":0.097,"d":0.13,"s":"S"},{"k":0.097,"d":0.135,"s":"S"},{"k":0.097,"d":0.14,"s":"S"},{"k":0.097,"d":0.145,"s":"S"},{"k":0.097,"d":0.15,"s":"S"},{"k":0.097,"d":0.155,"s":"S"},{"k":0.097,"d":0.16,"s":"S"},{"k":0.097,"d":0.165,"s":"S"},{"k":0.097,"d":0.17,"s":"S"},{"k":0.097,"d":0.175,"s":"S"},{"k":0.097,"d":0.18,"s":"S"},{"k":0.097,"d":0.185,"s":"S"},{"k":0.097,"d":0.19,"s":"S"},{"k":0.097,"d":0.195,"s":"S"},
{"k":0.1005,"d":0,"s":"S"},{"k":0.1005,"d":0.005,"s":"S"},{"k":0.1005,"d":0.01,"s":"S"},{"k":0.1005,"d":0.015,"s":"S"},{"k":0.1005,"d":0.02,"s":"S"},{"k":0.1005,"d":0.025,"s":"S"},{"k":0.1005,"d":0.03,"s":"S"},{"k":0.1005,"d":0.035,"s":"S"},{"k":0.1005,"d":0.04,"s":"S"},{"k":0.1005,"d":0.045,"s":"S"},{"k":0.1005,"d":0.05,"s":"S"},{"k":0.1005,"d":0.055,"s":"S"},{"k":0.1005,"d":0.06,"s":"S"},{"k":0.1005,"d":0.065,"s":"S"},{"k":0.1005,"d":0.07,"s":"S"},{"k":0.1005,"d":0.075,"s":"S"},{"k":0.1005,"d":0.08,"s":"S"},{"k":0.1005,"d":0.085,"s":"S"},{"k":0.1005,"d":0.09,"s":"S"},{"k":0.1005,"d":0.095,"s":"S"},{"k":0.1005,"d":0.1,"s":"S"},{"k":0.1005,"d":0.105,"s":"S"},{"k":0.1005,"d":0.11,"s":"S"},{"k":0.1005,"d":0.115,"s":"S"},{"k":0.1005,"d":0.12,"s":"S"},{"k":0.1005,"d":0.125,"s":"S"},{"k":0.1005,"d":0.13,"s":"S"},{"k":0.1005,"d":0.135,"s":"S"},{"k":0.1005,"d":0.14,"s":"S"},{"k":0.1005,"d":0.145,"s":"S"},{"k":0.1005,"d":0.15,"s":"S"},{"k":0.1005,"d":0.155,"s":"S"},{"k":0.1005,"d":0.16,"s":"S"},{"k":0.1005,"d":0.165,"s":"S"},{"k":0.1005,"d":0.17,"s":"S"},{"k":0.1005,"d":0.175,"s":"S"},{"k":0.1005,"d":0.18,"s":"S"},{"k":0.1005,"d":0.185,"s":"S"},{"k":0.1005,"d":0.19,"s":"S"},{"k":0.1005,"d":0.195,"s":"S"},
{"k":0.104,"d":0,"s":"S"},{"k":0.104,"d":0.005,"s":"S"},{"k":0.104,"d":0.01,"s":"S"},{"k":0.104,"d":0.015,"s":"S"},{"k":0.104,"d":0.02,"s":"S"},{"k":0.104,"d":0.025,"s":"S"},{"k":0.104,"d":0.03,"s":"S"},{"k":0.104,"d":0.035,"s":"S"},{"k":0.104,"d":0.04,"s":"S"},{"k":0.104,"d":0.045,"s":"S"},{"k":0.104,"d":0.05,"s":"S"},{"k":0.104,"d":0.055,"s":"S"},{"k":0.104,"d":0.06,"s":"S"},{"k":0.104,"d":0.065,"s":"S"},{"k":0.104,"d":0.07,"s":"S"},{"k":0.104,"d":0.075,"s":"S"},{"k":0.104,"d":0.08,"s":"S"},{"k":0.104,"d":0.085,"s":"S"},{"k":0.104,"d":0.09,"s":"S"},{"k":0.104,"d":0.095,"s":"S"},{"k":0.104,"d":0.1,"s":"S"},{"k":0.104,"d":0.105,"s":"S"},{"k":0.104,"d":0.11,"s":"S"},{"k":0.104,"d":0.115,"s":"S"},{"k":0.104,"d":0.12,"s":"S"},{"k":0.104,"d":0.125,"s":"S"},{"k":0.104,"d":0.13,"s":"S"},{"k":0.104,"d":0.135,"s":"S"},{"k":0.104,"d":0.14,"s":"S"},{"k":0.104,"d":0.145,"s":"S"},{"k":0.104,"d":0.15,"s":"S"},{"k":0.104,"d":0.155,"s":"S"},{"k":0.104,"d":0.16,"s":"S"},{"k":0.104,"d":0.165,"s":"S"},{"k":0.104,"d":0.17,"s":"S"},{"k":0.104,"d":0.175,"s":"S"},{"k":0.104,"d":0.18,"s":"S"},{"k":0.104,"d":0.185,"s":"S"},{"k":0.104,"d":0.19,"s":"S"},{"k":0.104,"d":0.195,"s":"S"},
{"k":0.1075,"d":0,"s":"S"},{"k":0.1075,"d":0.005,"s":"S"},{"k":0.1075,"d":0.01,"s":"S"},{"k":0.1075,"d":0.015,"s":"S"},{"k":0.1075,"d":0.02,"s":"S"},{"k":0.1075,"d":0.025,"s":"S"},{"k":0.1075,"d":0.03,"s":"S"},{"k":0.1075,"d":0.035,"s":"S"},{"k":0.1075,"d":0.04,"s":"S"},{"k":0.1075,"d":0.045,"s":"S"},{"k":0.1075,"d":0.05,"s":"S"},{"k":0.1075,"d":0.055,"s":"S"},{"k":0.1075,"d":0.06,"s":"S"},{"k":0.1075,"d":0.065,"s":"S"},{"k":0.1075,"d":0.07,"s":"S"},{"k":0.1075,"d":0.075,"s":"S"},{"k":0.1075,"d":0.08,"s":"S"},{"k":0.1075,"d":0.085,"s":"S"},{"k":0.1075,"d":0.09,"s":"S"},{"k":0.1075,"d":0.095,"s":"S"},{"k":0.1075,"d":0.1,"s":"S"},{"k":0.1075,"d":0.105,"s":"S"},{"k":0.1075,"d":0.11,"s":"S"},{"k":0.1075,"d":0.115,"s":"S"},{"k":0.1075,"d":0.12,"s":"S"},{"k":0.1075,"d":0.125,"s":"S"},{"k":0.1075,"d":0.13,"s":"S"},{"k":0.1075,"d":0.135,"s":"S"},{"k":0.1075,"d":0.14,"s":"S"},{"k":0.1075,"d":0.145,"s":"S"},{"k":0.1075,"d":0.15,"s":"S"},{"k":0.1075,"d":0.155,"s":"S"},{"k":0.1075,"d":0.16,"s":"S"},{"k":0.1075,"d":0.165,"s":"S"},{"k":0.1075,"d":0.17,"s":"S"},{"k":0.1075,"d":0.175,"s":"S"},{"k":0.1075,"d":0.18,"s":"S"},{"k":0.1075,"d":0.185,"s":"S"},{"k":0.1075,"d":0.19,"s":"S"},{"k":0.1075,"d":0.195,"s":"S"},
{"k":0.111,"d":0,"s":"S"},{"k":0.111,"d":0.005,"s":"S"},{"k":0.111,"d":0.01,"s":"S"},{"k":0.111,"d":0.015,"s":"S"},{"k":0.111,"d":0.02,"s":"S"},{"k":0.111,"d":0.025,"s":"S"},{"k":0.111,"d":0.03,"s":"S"},{"k":0.111,"d":0.035,"s":"S"},{"k":0.111,"d":0.04,"s":"S"},{"k":0.111,"d":0.045,"s":"S"},{"k":0.111,"d":0.05,"s":"S"},{"k":0.111,"d":0.055,"s":"S"},{"k":0.111,"d":0.06,"s":"S"},{"k":0.111,"d":0.065,"s":"S"},{"k":0.111,"d":0.07,"s":"S"},{"k":0.111,"d":0.075,"s":"S"},{"k":0.111,"d":0.08,"s":"S"},{"k":0.111,"d":0.085,"s":"S"},{"k":0.111,"d":0.09,"s":"S"},{"k":0.111,"d":0.095,"s":"S"},{"k":0.111,"d":0.1,"s":"S"},{"k":0.111,"d":0.105,"s":"S"},{"k":0.111,"d":0.11,"s":"S"},{"k":0.111,"d":0.115,"s":"S"},{"k":0.111,"d":0.12,"s":"S"},{"k":0.111,"d":0.125,"s":"S"},{"k":0.111,"d":0.13,"s":"S"},{"k":0.111,"d":0.135,"s":"S"},{"k":0.111,"d":0.14,"s":"S"},{"k":0.111,"d":0.145,"s":"S"},{"k":0.111,"d":0.15,"s":"S"},{"k":0.111,"d":0.155,"s":"S"},{"k":0.111,"d":0.16,"s":"S"},{"k":0.111,"d":0.165,"s":"S"},{"k":0.111,"d":0.17,"s":"S"},{"k":0.111,"d":0.175,"s":"N"},{"k":0.111,"d":0.18,"s":"N"},{"k":0.111,"d":0.185,"s":"N"},{"k":0.111,"d":0.19,"s":"N"},{"k":0.111,"d":0.195,"s":"N"},
{"k":0.1145,"d":0,"s":"S"},{"k":0.1145,"d":0.005,"s":"S"},{"k":0.1145,"d":0.01,"s":"S"},{"k":0.1145,"d":0.015,"s":"S"},{"k":0.1145,"d":0.02,"s":"S"},{"k":0.1145,"d":0.025,"s":"S"},{"k":0.1145,"d":0.03,"s":"S"},{"k":0.1145,"d":0.035,"s":"S"},{"k":0.1145,"d":0.04,"s":"S"},{"k":0.1145,"d":0.045,"s":"S"},{"k":0.1145,"d":0.05,"s":"S"},{"k":0.1145,"d":0.055,"s":"S"},{"k":0.1145,"d":0.06,"s":"S"},{"k":0.1145,"d":0.065,"s":"S"},{"k":0.1145,"d":0.07,"s":"S"},{"k":0.1145,"d":0.075,"s":"S"},{"k":0.1145,"d":0.08,"s":"S"},{"k":0.1145,"d":0.085,"s":"S"},{"k":0.1145,"d":0.09,"s":"S"},{"k":0.1145,"d":0.095,"s":"S"},{"k":0.1145,"d":0.1,"s":"S"},{"k":0.1145,"d":0.105,"s":"S"},{"k":0.1145,"d":0.11,"s":"S"},{"k":0.1145,"d":0.115,"s":"S"},{"k":0.1145,"d":0.12,"s":"S"},{"k":0.1145,"d":0.125,"s":"S"},{"k":0.1145,"d":0.13,"s":"S"},{"k":0.1145,"d":0.135,"s":"S"},{"k":0.1145,"d":0.14,"s":"S"},{"k":0.1145,"d":0.145,"s":"N"},{"k":0.1145,"d":0.15,"s":"N"},{"k":0.1145,"d":0.155,"s":"N"},{"k":0.1145,"d":0.16,"s":"N"},{"k":0.1145,"d":0.165,"s":"N"},{"k":0.1145,"d":0.17,"s":"N"},{"k":0.1145,"d":0.175,"s":"N"},{"k":0.1145,"d":0.18,"s":"N"},{"k":0.1145,"d":0.185,"s":"N"},{"k":0.1145,"d":0.19,"s":"N"},{"k":0.1145,"d":0.195,"s":"N"},
{"k":0.118,"d":0,"s":"S"},{"k":0.118,"d":0.005,"s":"S"},{"k":0.118,"d":0.01,"s":"S"},{"k":0.118,"d":0.015,"s":"S"},{"k":0.118,"d":0.02,"s":"S"},{"k":0.118,"d":0.025,"s":"S"},{"k":0.118,"d":0.03,"s":"S"},{"k":0.118,"d":0.035,"s":"S"},{"k":0.118,"d":0.04,"s":"S"},{"k":0.118,"d":0.045,"s":"S"},{"k":0.118,"d":0.05,"s":"S"},{"k":0.118,"d":0.055,"s":"S"},{"k":0.118,"d":0.06,"s":"S"},{"k":0.118,"d":0.065,"s":"S"},{"k":0.118,"d":0.07,"s":"S"},{"k":0.118,"d":0.075,"s":"S"},{"k":0.118,"d":0.08,"s":"S"},{"k":0.118,"d":0.085,"s":"S"},{"k":0.118,"d":0.09,"s":"S"},{"k":0.118,"d":0.095,"s":"S"},{"k":0.118,"d":0.1,"s":"S"},{"k":0.118,"d":0.105,"s":"S"},{"k":0.118,"d":0.11,"s":"S"},{"k":0.118,"d":0.115,"s":"N"},{"k":0.118,"d":0.12,"s":"N"},{"k":0.118,"d":0.125,"s":"N"},{"k":0.118,"d":0.13,"s":"N"},{"k":0.118,"d":0.135,"s":"N"},{"k":0.118,"d":0.14,"s":"N"},{"k":0.118,"d":0.145,"s":"N"},{"k":0.118,"d":0.15,"s":"N"},{"k":0.118,"d":0.155,"s":"N"},{"k":0.118,"d":0.16,"s":"N"},{"k":0.118,"d":0.165,"s":"N"},{"k":0.118,"d":0.17,"s":"N"},{"k":0.118,"d":0.175,"s":"N"},{"k":0.118,"d":0.18,"s":"N"},{"k":0.118,"d":0.185,"s":"N"},{"k":0.118,"d":0.19,"s":"N"},{"k":0.118,"d":0.195,"s":"N"},
{"k":0.1215,"d":0,"s":"S"},{"k":0.1215,"d":0.005,"s":"S"},{"k":0.1215,"d":0.01,"s":"S"},{"k":0.1215,"d":0.015,"s":"S"},{"k":0.1215,"d":0.02,"s":"S"},{"k":0.1215,"d":0.025,"s":"S"},{"k":0.1215,"d":0.03,"s":"S"},{"k":0.1215,"d":0.035,"s":"S"},{"k":0.1215,"d":0.04,"s":"S"},{"k":0.1215,"d":0.045,"s":"S"},{"k":0.1215,"d":0.05,"s":"S"},{"k":0.1215,"d":0.055,"s":"S"},{"k":0.1215,"d":0.06,"s":"S"},{"k":0.1215,"d":0.065,"s":"S"},{"k":0.1215,"d":0.07,"s":"S"},{"k":0.1215,"d":0.075,"s":"S"},{"k":0.1215,"d":0.08,"s":"N"},{"k":0.1215,"d":0.085,"s":"N"},{"k":0.1215,"d":0.09,"s":"N"},{"k":0.1215,"d":0.095,"s":"N"},{"k":0.1215,"d":0.1,"s":"N"},{"k":0.1215,"d":0.105,"s":"N"},{"k":0.1215,"d":0.11,"s":"N"},{"k":0.1215,"d":0.115,"s":"N"},{"k":0.1215,"d":0.12,"s":"N"},{"k":0.1215,"d":0.125,"s":"N"},{"k":0.1215,"d":0.13,"s":"N"},{"k":0.1215,"d":0.135,"s":"N"},{"k":0.1215,"d":0.14,"s":"N"},{"k":0.1215,"d":0.145,"s":"N"},{"k":0.1215,"d":0.15,"s":"N"},{"k":0.1215,"d":0.155,"s":"N"},{"k":0.1215,"d":0.16,"s":"N"},{"k":0.1215,"d":0.165,"s":"N"},{"k":0.1215,"d":0.17,"s":"N"},{"k":0.1215,"d":0.175,"s":"N"},{"k":0.1215,"d":0.18,"s":"N"},{"k":0.1215,"d":0.185,"s":"N"},{"k":0.1215,"d":0.19,"s":"N"},{"k":0.1215,"d":0.195,"s":"N"},
{"k":0.125,"d":0,"s":"S"},{"k":0.125,"d":0.005,"s":"S"},{"k":0.125,"d":0.01,"s":"S"},{"k":0.125,"d":0.015,"s":"S"},{"k":0.125,"d":0.02,"s":"S"},{"k":0.125,"d":0.025,"s":"S"},{"k":0.125,"d":0.03,"s":"S"},{"k":0.125,"d":0.035,"s":"S"},{"k":0.125,"d":0.04,"s":"S"},{"k":0.125,"d":0.045,"s":"N"},{"k":0.125,"d":0.05,"s":"N"},{"k":0.125,"d":0.055,"s":"N"},{"k":0.125,"d":0.06,"s":"N"},{"k":0.125,"d":0.065,"s":"N"},{"k":0.125,"d":0.07,"s":"N"},{"k":0.125,"d":0.075,"s":"N"},{"k":0.125,"d":0.08,"s":"N"},{"k":0.125,"d":0.085,"s":"N"},{"k":0.125,"d":0.09,"s":"N"},{"k":0.125,"d":0.095,"s":"N"},{"k":0.125,"d":0.1,"s":"N"},{"k":0.125,"d":0.105,"s":"N"},{"k":0.125,"d":0.11,"s":"N"},{"k":0.125,"d":0.115,"s":"N"},{"k":0.125,"d":0.12,"s":"N"},{"k":0.125,"d":0.125,"s":"N"},{"k":0.125,"d":0.13,"s":"N"},{"k":0.125,"d":0.135,"s":"N"},{"k":0.125,"d":0.14,"s":"N"},{"k":0.125,"d":0.145,"s":"N"},{"k":0.125,"d":0.15,"s":"N"},{"k":0.125,"d":0.155,"s":"N"},{"k":0.125,"d":0.16,"s":"N"},{"k":0.125,"d":0.165,"s":"N"},{"k":0.125,"d":0.17,"s":"N"},{"k":0.125,"d":0.175,"s":"N"},{"k":0.125,"d":0.18,"s":"N"},{"k":0.125,"d":0.185,"s":"N"},{"k":0.125,"d":0.19,"s":"N"},{"k":0.125,"d":0.195,"s":"N"},
{"k":0.1285,"d":0,"s":"S"},{"k":0.1285,"d":0.005,"s":"S"},{"k":0.1285,"d":0.01,"s":"S"},{"k":0.1285,"d":0.015,"s":"N"},{"k":0.1285,"d":0.02,"s":"N"},{"k":0.1285,"d":0.025,"s":"N"},{"k":0.1285,"d":0.03,"s":"N"},{"k":0.1285,"d":0.035,"s":"N"},{"k":0.1285,"d":0.04,"s":"N"},{"k":0.1285,"d":0.045,"s":"N"},{"k":0.1285,"d":0.05,"s":"N"},{"k":0.1285,"d":0.055,"s":"N"},{"k":0.1285,"d":0.06,"s":"N"},{"k":0.1285,"d":0.065,"s":"N"},{"k":0.1285,"d":0.07,"s":"N"},{"k":0.1285,"d":0.075,"s":"N"},{"k":0.1285,"d":0.08,"s":"N"},{"k":0.1285,"d":0.085,"s":"N"},{"k":0.1285,"d":0.09,"s":"N"},{"k":0.1285,"d":0.095,"s":"N"},{"k":0.1285,"d":0.1,"s":"N"},{"k":0.1285,"d":0.105,"s":"N"},{"k":0.1285,"d":0.11,"s":"N"},{"k":0.1285,"d":0.115,"s":"N"},{"k":0.1285,"d":0.12,"s":"N"},{"k":0.1285,"d":0.125,"s":"N"},{"k":0.1285,"d":0.13,"s":"N"},{"k":0.1285,"d":0.135,"s":"N"},{"k":0.1285,"d":0.14,"s":"N"},{"k":0.1285,"d":0.145,"s":"N"},{"k":0.1285,"d":0.15,"s":"N"},{"k":0.1285,"d":0.155,"s":"N"},{"k":0.1285,"d":0.16,"s":"N"},{"k":0.1285,"d":0.165,"s":"N"},{"k":0.1285,"d":0.17,"s":"N"},{"k":0.1285,"d":0.175,"s":"N"},{"k":0.1285,"d":0.18,"s":"N"},{"k":0.1285,"d":0.185,"s":"N"},{"k":0.1285,"d":0.19,"s":"N"},{"k":0.1285,"d":0.195,"s":"N"},
{"k":0.132,"d":0,"s":"N"},{"k":0.132,"d":0.005,"s":"N"},{"k":0.132,"d":0.01,"s":"N"},{"k":0.132,"d":0.015,"s":"N"},{"k":0.132,"d":0.02,"s":"N"},{"k":0.132,"d":0.025,"s":"N"},{"k":0.132,"d":0.03,"s":"N"},{"k":0.132,"d":0.035,"s":"N"},{"k":0.132,"d":0.04,"s":"N"},{"k":0.132,"d":0.045,"s":"N"},{"k":0.132,"d":0.05,"s":"N"},{"k":0.132,"d":0.055,"s":"N"},{"k":0.132,"d":0.06,"s":"N"},{"k":0.132,"d":0.065,"s":"N"},{"k":0.132,"d":0.07,"s":"N"},{"k":0.132,"d":0.075,"s":"N"},{"k":0.132,"d":0.08,"s":"N"},{"k":0.132,"d":0.085,"s":"N"},{"k":0.132,"d":0.09,"s":"N"},{"k":0.132,"d":0.095,"s":"N"},{"k":0.132,"d":0.1,"s":"N"},{"k":0.132,"d":0.105,"s":"N"},{"k":0.132,"d":0.11,"s":"N"},{"k":0.132,"d":0.115,"s":"N"},{"k":0.132,"d":0.12,"s":"N"},{"k":0.132,"d":0.125,"s":"N"},{"k":0.132,"d":0.13,"s":"N"},{"k":0.132,"d":0.135,"s":"N"},{"k":0.132,"d":0.14,"s":"N"},{"k":0.132,"d":0.145,"s":"N"},{"k":0.132,"d":0.15,"s":"N"},{"k":0.132,"d":0.155,"s":"N"},{"k":0.132,"d":0.16,"s":"N"},{"k":0.132,"d":0.165,"s":"N"},{"k":0.132,"d":0.17,"s":"N"},{"k":0.132,"d":0.175,"s":"N"},{"k":0.132,"d":0.18,"s":"N"},{"k":0.132,"d":0.185,"s":"N"},{"k":0.132,"d":0.19,"s":"N"},{"k":0.132,"d":0.195,"s":"N"},
{"k":0.1355,"d":0,"s":"N"},{"k":0.1355,"d":0.005,"s":"N"},{"k":0.1355,"d":0.01,"s":"N"},{"k":0.1355,"d":0.015,"s":"N"},{"k":0.1355,"d":0.02,"s":"N"},{"k":0.1355,"d":0.025,"s":"N"},{"k":0.1355,"d":0.03,"s":"N"},{"k":0.1355,"d":0.035,"s":"N"},{"k":0.1355,"d":0.04,"s":"N"},{"k":0.1355,"d":0.045,"s":"N"},{"k":0.1355,"d":0.05,"s":"N"},{"k":0.1355,"d":0.055,"s":"N"},{"k":0.1355,"d":0.06,"s":"N"},{"k":0.1355,"d":0.065,"s":"N"},{"k":0.1355,"d":0.07,"s":"N"},{"k":0.1355,"d":0.075,"s":"N"},{"k":0.1355,"d":0.08,"s":"N"},{"k":0.1355,"d":0.085,"s":"N"},{"k":0.1355,"d":0.09,"s":"N"},{"k":0.1355,"d":0.095,"s":"N"},{"k":0.1355,"d":0.1,"s":"N"},{"k":0.1355,"d":0.105,"s":"N"},{"k":0.1355,"d":0.11,"s":"N"},{"k":0.1355,"d":0.115,"s":"N"},{"k":0.1355,"d":0.12,"s":"N"},{"k":0.1355,"d":0.125,"s":"N"},{"k":0.1355,"d":0.13,"s":"N"},{"k":0.1355,"d":0.135,"s":"N"},{"k":0.1355,"d":0.14,"s":"N"},{"k":0.1355,"d":0.145,"s":"N"},{"k":0.1355,"d":0.15,"s":"N"},{"k":0.1355,"d":0.155,"s":"N"},{"k":0.1355,"d":0.16,"s":"N"},{"k":0.1355,"d":0.165,"s":"N"},{"k":0.1355,"d":0.17,"s":"N"},{"k":0.1355,"d":0.175,"s":"N"},{"k":0.1355,"d":0.18,"s":"N"},{"k":0.1355,"d":0.185,"s":"N"},{"k":0.1355,"d":0.19,"s":"N"},{"k":0.1355,"d":0.195,"s":"N"},
{"k":0.139,"d":0,"s":"N"},{"k":0.139,"d":0.005,"s":"N"},{"k":0.139,"d":0.01,"s":"N"},{"k":0.139,"d":0.015,"s":"N"},{"k":0.139,"d":0.02,"s":"N"},{"k":0.139,"d":0.025,"s":"N"},{"k":0.139,"d":0.03,"s":"N"},{"k":0.139,"d":0.035,"s":"N"},{"k":0.139,"d":0.04,"s":"N"},{"k":0.139,"d":0.045,"s":"N"},{"k":0.139,"d":0.05,"s":"N"},{"k":0.139,"d":0.055,"s":"N"},{"k":0.139,"d":0.06,"s":"N"},{"k":0.139,"d":0.065,"s":"N"},{"k":0.139,"d":0.07,"s":"N"},{"k":0.139,"d":0.075,"s":"N"},{"k":0.139,"d":0.08,"s":"N"},{"k":0.139,"d":0.085,"s":"N"},{"k":0.139,"d":0.09,"s":"N"},{"k":0.139,"d":0.095,"s":"N"},{"k":0.139,"d":0.1,"s":"N"},{"k":0.139,"d":0.105,"s":"N"},{"k":0.139,"d":0.11,"s":"N"},{"k":0.139,"d":0.115,"s":"N"},{"k":0.139,"d":0.12,"s":"N"},{"k":0.139,"d":0.125,"s":"N"},{"k":0.139,"d":0.13,"s":"N"},{"k":0.139,"d":0.135,"s":"N"},{"k":0.139,"d":0.14,"s":"N"},{"k":0.139,"d":0.145,"s":"N"},{"k":0.139,"d":0.15,"s":"N"},{"k":0.139,"d":0.155,"s":"N"},{"k":0.139,"d":0.16,"s":"N"},{"k":0.139,"d":0.165,"s":"N"},{"k":0.139,"d":0.17,"s":"N"},{"k":0.139,"d":0.175,"s":"N"},{"k":0.139,"d":0.18,"s":"N"},{"k":0.139,"d":0.185,"s":"N"},{"k":0.139,"d":0.19,"s":"N"},{"k":0.139,"d":0.195,"s":"N"},
{"k":0.1425,"d":0,"s":"N"},{"k":0.1425,"d":0.005,"s":"N"},{"k":0.1425,"d":0.01,"s":"N"},{"k":0.1425,"d":0.015,"s":"N"},{"k":0.1425,"d":0.02,"s":"N"},{"k":0.1425,"d":0.025,"s":"N"},{"k":0.1425,"d":0.03,"s":"N"},{"k":0.1425,"d":0.035,"s":"N"},{"k":0.1425,"d":0.04,"s":"N"},{"k":0.1425,"d":0.045,"s":"N"},{"k":0.1425,"d":0.05,"s":"N"},{"k":0.1425,"d":0.055,"s":"N"},{"k":0.1425,"d":0.06,"s":"N"},{"k":0.1425,"d":0.065,"s":"N"},{"k":0.1425,"d":0.07,"s":"N"},{"k":0.1425,"d":0.075,"s":"N"},{"k":0.1425,"d":0.08,"s":"N"},{"k":0.1425,"d":0.085,"s":"N"},{"k":0.1425,"d":0.09,"s":"N"},{"k":0.1425,"d":0.095,"s":"N"},{"k":0.1425,"d":0.1,"s":"N"},{"k":0.1425,"d":0.105,"s":"N"},{"k":0.1425,"d":0.11,"s":"N"},{"k":0.1425,"d":0.115,"s":"N"},{"k":0.1425,"d":0.12,"s":"N"},{"k":0.1425,"d":0.125,"s":"N"},{"k":0.1425,"d":0.13,"s":"N"},{"k":0.1425,"d":0.135,"s":"N"},{"k":0.1425,"d":0.14,"s":"N"},{"k":0.1425,"d":0.145,"s":"N"},{"k":0.1425,"d":0.15,"s":"N"},{"k":0.1425,"d":0.155,"s":"N"},{"k":0.1425,"d":0.16,"s":"N"},{"k":0.1425,"d":0.165,"s":"N"},{"k":0.1425,"d":0.17,"s":"N"},{"k":0.1425,"d":0.175,"s":"N"},{"k":0.1425,"d":0.18,"s":"N"},{"k":0.1425,"d":0.185,"s":"N"},{"k":0.1425,"d":0.19,"s":"N"},{"k":0.1425,"d":0.195,"s":"N"},
{"k":0.146,"d":0,"s":"N"},{"k":0.146,"d":0.005,"s":"N"},{"k":0.146,"d":0.01,"s":"N"},{"k":0.146,"d":0.015,"s":"N"},{"k":0.146,"d":0.02,"s":"N"},{"k":0.146,"d":0.025,"s":"N"},{"k":0.146,"d":0.03,"s":"N"},{"k":0.146,"d":0.035,"s":"N"},{"k":0.146,"d":0.04,"s":"N"},{"k":0.146,"d":0.045,"s":"N"},{"k":0.146,"d":0.05,"s":"N"},{"k":0.146,"d":0.055,"s":"N"},{"k":0.146,"d":0.06,"s":"N"},{"k":0.146,"d":0.065,"s":"N"},{"k":0.146,"d":0.07,"s":"N"},{"k":0.146,"d":0.075,"s":"N"},{"k":0.146,"d":0.08,"s":"N"},{"k":0.146,"d":0.085,"s":"N"},{"k":0.146,"d":0.09,"s":"N"},{"k":0.146,"d":0.095,"s":"N"},{"k":0.146,"d":0.1,"s":"N"},{"k":0.146,"d":0.105,"s":"N"},{"k":0.146,"d":0.11,"s":"N"},{"k":0.146,"d":0.115,"s":"N"},{"k":0.146,"d":0.12,"s":"N"},{"k":0.146,"d":0.125,"s":"N"},{"k":0.146,"d":0.13,"s":"N"},{"k":0.146,"d":0.135,"s":"N"},{"k":0.146,"d":0.14,"s":"N"},{"k":0.146,"d":0.145,"s":"N"},{"k":0.146,"d":0.15,"s":"N"},{"k":0.146,"d":0.155,"s":"N"},{"k":0.146,"d":0.16,"s":"N"},{"k":0.146,"d":0.165,"s":"N"},{"k":0.146,"d":0.17,"s":"N"},{"k":0.146,"d":0.175,"s":"N"},{"k":0.146,"d":0.18,"s":"N"},{"k":0.146,"d":0.185,"s":"N"},{"k":0.146,"d":0.19,"s":"N"},{"k":0.146,"d":0.195,"s":"N"},
{"k":0.1495,"d":0,"s":"N"},{"k":0.1495,"d":0.005,"s":"N"},{"k":0.1495,"d":0.01,"s":"N"},{"k":0.1495,"d":0.015,"s":"N"},{"k":0.1495,"d":0.02,"s":"N"},{"k":0.1495,"d":0.025,"s":"N"},{"k":0.1495,"d":0.03,"s":"N"},{"k":0.1495,"d":0.035,"s":"N"},{"k":0.1495,"d":0.04,"s":"N"},{"k":0.1495,"d":0.045,"s":"N"},{"k":0.1495,"d":0.05,"s":"N"},{"k":0.1495,"d":0.055,"s":"N"},{"k":0.1495,"d":0.06,"s":"N"},{"k":0.1495,"d":0.065,"s":"N"},{"k":0.1495,"d":0.07,"s":"N"},{"k":0.1495,"d":0.075,"s":"N"},{"k":0.1495,"d":0.08,"s":"N"},{"k":0.1495,"d":0.085,"s":"N"},{"k":0.1495,"d":0.09,"s":"N"},{"k":0.1495,"d":0.095,"s":"N"},{"k":0.1495,"d":0.1,"s":"N"},{"k":0.1495,"d":0.105,"s":"N"},{"k":0.1495,"d":0.11,"s":"N"},{"k":0.1495,"d":0.115,"s":"N"},{"k":0.1495,"d":0.12,"s":"N"},{"k":0.1495,"d":0.125,"s":"N"},{"k":0.1495,"d":0.13,"s":"N"},{"k":0.1495,"d":0.135,"s":"N"},{"k":0.1495,"d":0.14,"s":"N"},{"k":0.1495,"d":0.145,"s":"N"},{"k":0.1495,"d":0.15,"s":"N"},{"k":0.1495,"d":0.155,"s":"N"},{"k":0.1495,"d":0.16,"s":"N"},{"k":0.1495,"d":0.165,"s":"N"},{"k":0.1495,"d":0.17,"s":"N"},{"k":0.1495,"d":0.175,"s":"N"},{"k":0.1495,"d":0.18,"s":"N"},{"k":0.1495,"d":0.185,"s":"N"},{"k":0.1495,"d":0.19,"s":"N"},{"k":0.1495,"d":0.195,"s":"N"},
{"k":0.153,"d":0,"s":"N"},{"k":0.153,"d":0.005,"s":"N"},{"k":0.153,"d":0.01,"s":"N"},{"k":0.153,"d":0.015,"s":"N"},{"k":0.153,"d":0.02,"s":"N"},{"k":0.153,"d":0.025,"s":"N"},{"k":0.153,"d":0.03,"s":"N"},{"k":0.153,"d":0.035,"s":"N"},{"k":0.153,"d":0.04,"s":"N"},{"k":0.153,"d":0.045,"s":"N"},{"k":0.153,"d":0.05,"s":"N"},{"k":0.153,"d":0.055,"s":"N"},{"k":0.153,"d":0.06,"s":"N"},{"k":0.153,"d":0.065,"s":"N"},{"k":0.153,"d":0.07,"s":"N"},{"k":0.153,"d":0.075,"s":"N"},{"k":0.153,"d":0.08,"s":"N"},{"k":0.153,"d":0.085,"s":"N"},{"k":0.153,"d":0.09,"s":"N"},{"k":0.153,"d":0.095,"s":"N"},{"k":0.153,"d":0.1,"s":"N"},{"k":0.153,"d":0.105,"s":"N"},{"k":0.153,"d":0.11,"s":"N"},{"k":0.153,"d":0.115,"s":"N"},{"k":0.153,"d":0.12,"s":"N"},{"k":0.153,"d":0.125,"s":"N"},{"k":0.153,"d":0.13,"s":"N"},{"k":0.153,"d":0.135,"s":"N"},{"k":0.153,"d":0.14,"s":"N"},{"k":0.153,"d":0.145,"s":"N"},{"k":0.153,"d":0.15,"s":"N"},{"k":0.153,"d":0.155,"s":"N"},{"k":0.153,"d":0.16,"s":"N"},{"k":0.153,"d":0.165,"s":"N"},{"k":0.153,"d":0.17,"s":"N"},{"k":0.153,"d":0.175,"s":"N"},{"k":0.153,"d":0.18,"s":"N"},{"k":0.153,"d":0.185,"s":"N"},{"k":0.153,"d":0.19,"s":"N"},{"k":0.153,"d":0.195,"s":"N"},
{"k":0.1565,"d":0,"s":"N"},{"k":0.1565,"d":0.005,"s":"N"},{"k":0.1565,"d":0.01,"s":"N"},{"k":0.1565,"d":0.015,"s":"N"},{"k":0.1565,"d":0.02,"s":"N"},{"k":0.1565,"d":0.025,"s":"N"},{"k":0.1565,"d":0.03,"s":"N"},{"k":0.1565,"d":0.035,"s":"N"},{"k":0.1565,"d":0.04,"s":"N"},{"k":0.1565,"d":0.045,"s":"N"},{"k":0.1565,"d":0.05,"s":"N"},{"k":0.1565,"d":0.055,"s":"N"},{"k":0.1565,"d":0.06,"s":"N"},{"k":0.1565,"d":0.065,"s":"N"},{"k":0.1565,"d":0.07,"s":"N"},{"k":0.1565,"d":0.075,"s":"N"},{"k":0.1565,"d":0.08,"s":"N"},{"k":0.1565,"d":0.085,"s":"N"},{"k":0.1565,"d":0.09,"s":"N"},{"k":0.1565,"d":0.095,"s":"N"},{"k":0.1565,"d":0.1,"s":"N"},{"k":0.1565,"d":0.105,"s":"N"},{"k":0.1565,"d":0.11,"s":"N"},{"k":0.1565,"d":0.115,"s":"N"},{"k":0.1565,"d":0.12,"s":"N"},{"k":0.1565,"d":0.125,"s":"N"},{"k":0.1565,"d":0.13,"s":"N"},{"k":0.1565,"d":0.135,"s":"N"},{"k":0.1565,"d":0.14,"s":"N"},{"k":0.1565,"d":0.145,"s":"N"},{"k":0.1565,"d":0.15,"s":"N"},{"k":0.1565,"d":0.155,"s":"N"},{"k":0.1565,"d":0.16,"s":"N"},{"k":0.1565,"d":0.165,"s":"N"},{"k":0.1565,"d":0.17,"s":"N"},{"k":0.1565,"d":0.175,"s":"N"},{"k":0.1565,"d":0.18,"s":"N"},{"k":0.1565,"d":0.185,"s":"N"},{"k":0.1565,"d":0.19,"s":"N"},{"k":0.1565,"d":0.195,"s":"N"}
],
"boxes": [
{"k":0.0211,"k2":0.0500,"d":0.1004,"d2":0.1225},
{"k":0.0586,"k2":0.0797,"d":0.1342,"d2":0.1572},
{"k":0.1214,"k2":0.1535,"d":0.1242,"d2":0.1377},
{"k":0.0783,"k2":0.1200,"d":0.0230,"d2":0.0400}
],
"labels": [
{"k":0.02235,"d":0.1142,"t":"Combined"},
{"k":0.02235,"d":0.1054,"t":"Markets Strategy"},
{"k":0.05993,"d":0.1473,"t":"Two Tiered"},
{"k":0.05993,"d":0.1384,"t":"Strategy"},
{"k":0.1226,"d":0.1293,"t":"No Effort Strategy"},
{"k":0.07977,"d":0.0301,"t":"Single Market Strategy"}
]
},
"encoding": {
"x": {"field": "k", "type": "quantitative",
 "scale": {"domain": [0.02, 0.16], "nice": false, "zero": false},
 "axis": {"values": [0.02,0.04,0.06,0.08,0.1,0.12,0.14,0.16], "format": "~g", "grid": false, "labelFlush": false,
  "labelFont": "Liberation Sans", "labelFontSize": 15, "labelColor": "black",
  "tickSize": -6, "tickColor": "#262626", "domainColor": "#262626", "labelPadding": 16,
  "title": "Private Effort Cost k", "titleFont": "Liberation Serif", "titleFontSize": 21, "titleFontWeight": "normal", "titleColor": "black", "titlePadding": 7}},
"y": {"field": "d", "type": "quantitative",
 "scale": {"domain": [0, 0.2], "nice": false, "zero": false},
 "axis": {"values": [0,0.05,0.1,0.15,0.2], "format": "~g", "grid": false, "labelFlush": false,
  "labelFont": "Liberation Sans", "labelFontSize": 15, "labelColor": "black",
  "tickSize": -6, "tickColor": "#262626", "domainColor": "#262626", "labelPadding": 10,
  "title": "Endowed Signal Profitability\u00a0\u00a0\u00a0\u00a0\u00a0\u00a0\u00a0\u00a0\u00a0\u00a0\u00a0\u00a0Δ", "titleFont": "Liberation Serif", "titleFontSize": 21, "titleFontWeight": "normal", "titleColor": "black", "titlePadding": 18, "titleY": 271}}
},
"layer": [
{"data": {"name": "grid"}, "transform": [{"filter": "datum.s == 'C'"}],
 "mark": {"type": "point", "shape": "M-1,0L1,0M0,-1L0,1", "filled": false, "stroke": "#0000ff", "strokeWidth": 2.6, "size": 115, "opacity": 1}},
{"data": {"name": "grid"}, "transform": [{"filter": "datum.s == 'T'"}],
 "mark": {"type": "point", "shape": "circle", "filled": true, "color": "#00ff00", "size": 8, "opacity": 1}},
{"data": {"name": "grid"}, "transform": [{"filter": "datum.s == 'S'"}],
 "mark": {"type": "point", "shape": "circle", "filled": false, "stroke": "#ff0000", "strokeWidth": 2.4, "size": 60, "opacity": 1}},
{"data": {"name": "grid"}, "transform": [{"filter": "datum.s == 'N'"}],
 "mark": {"type": "point", "shape": "circle", "filled": true, "color": "black", "size": 5, "opacity": 1}},
{"data": {"name": "boxes"},
 "mark": {"type": "rect", "fill": "white", "stroke": null},
 "encoding": {"x2": {"field": "k2"}, "y2": {"field": "d2"}}},
{"data": {"name": "labels"},
 "mark": {"type": "text", "align": "left", "baseline": "alphabetic", "font": "Liberation Serif", "fontSize": 22, "color": "black"},
 "encoding": {"text": {"field": "t", "type": "nominal"}}}
]
}
